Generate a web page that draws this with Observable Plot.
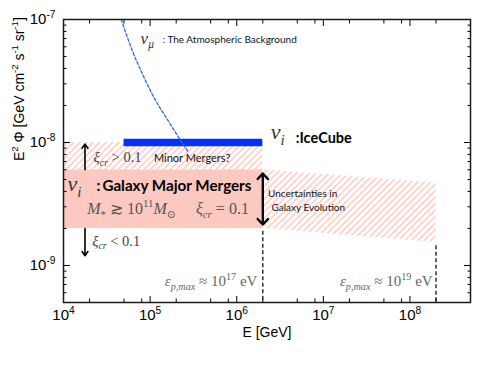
<!DOCTYPE html>
<html>
<head>
<meta charset="utf-8">
<script src="https://cdn.jsdelivr.net/npm/d3@7"></script>
<script src="https://cdn.jsdelivr.net/npm/@observablehq/plot@0.6"></script>
<style>
  html, body { margin: 0; padding: 0; background: #fff; }
  svg text { white-space: pre; }
</style>
</head>
<body>
<div id="chart"></div>
<script>
// ---- data (GeV, GeV cm^-2 s^-1 sr^-1) ----
const xDomain = [1e4, 5e8];
const yDomain = [5e-10, 1e-7];
const xMajor = [1e4, 1e5, 1e6, 1e7, 1e8];
const xMinorMult = [2, 5, 8];
const yMajor = [1e-9, 1e-8, 1e-7];
const yMinorMult = [2, 3, 4, 5, 6, 7, 8, 9];

// atmospheric nu_mu background (dashed blue)
const atmE    = [4.64e4, 6.22e4, 8.47e4, 1.16e5, 1.65e5, 2.25e5, 2.78e5];
const atmFlux = [1.0e-7, 5.6e-8, 3.4e-8, 2.19e-8, 1.47e-8, 1.04e-8, 8.3e-9];

// IceCube band
const iceCube = [{Emin: 5e4, Emax: 2e6, flux: 1e-8}];

// galaxy major mergers (solid) and minor mergers (hatched)
const majorZone = [{E1: 1e4, E2: 2e6, lo: 2e-9, hi: 6e-9}];
const minorZone = [{E1: 1e4, E2: 2e6, lo: 6e-9, hi: 1e-8}];
// uncertainty band extrapolated to higher energies
const bandE  = [2e6, 2e8];
const bandLo = [2e-9, 1.54e-9];
const bandHi = [6e-9, 4.68e-9];

// maximum proton energy cut-offs
const cutE   = [2e6, 2e8];
const cutTop = [1.9e-9, 1.45e-9];

// arrows
const arrowE    = [1.77e4, 1.77e4, 2e6, 2e6];
const arrowFrom = [6.0e-9, 2.0e-9, 3.5e-9, 3.5e-9];
const arrowTo   = [9.7e-9, 1.2e-9, 5.6e-9, 2.15e-9];
const arrowKind = ["thin", "thin", "thick", "thick"];

// annotations: log10 positions in data units
const labelLogE = [4.890, 5.145, 6.393, 6.682, 4.347, 5.044, 4.046, 4.382, 4.274, 4.332, 6.362, 6.401, 6.239, 8.262];
const labelLogF = [-7.151, -7.163, -7.918, -7.963, -8.124, -8.126, -8.338, -8.354, -8.536, -8.801, -8.421, -8.527, -9.128, -9.128];
const labelText = [
  "$ν_{μ}$",
  ": The Atmospheric Background",
  "$ν_{i}$",
  ":IceCube",
  "$ξ_{cr}$ > 0.1",
  "Minor Mergers?",
  "$ν_{i}$",
  ":\u2009Galaxy Major Mergers",
  "$M_{*}$ ≳ 10^{11}$M_{⊙}$\u2003 $ξ_{cr}$ = 0.1",
  "$ξ_{cr}$ < 0.1",
  "Uncertainties in",
  "Galaxy Evolution",
  "$ε_{p,max}$ ≈ 10^{17} eV",
  "$ε_{p,max}$ ≈ 10^{19} eV"
];
const labelKind = ["nuS", "sansS", "nuL", "sansB", "math14", "sansM", "nuL", "sansB15", "math16", "math14", "sansS", "sansS", "cut", "cut"];

const xTitle = "E [GeV]";
const yTitle = "E^{2} Φ [GeV cm^{-2} s^{-1} sr^{-1}]";

// ---- build tables ----
const decadesX = d3.range(4, 9);
const xMinor = decadesX.flatMap(k => xMinorMult.map(m => m * 10 ** k)).filter(v => v > xDomain[0] && v < xDomain[1]);
const decadesY = d3.range(-10, -7);
const yMinor = decadesY.flatMap(k => yMinorMult.map(m => m * 10 ** k)).filter(v => v > yDomain[0] && v < yDomain[1]);

const atm = atmE.map((E, i) => ({E, flux: atmFlux[i]}));
const band = bandE.map((E, i) => ({E, lo: bandLo[i], hi: bandHi[i]}));
const cuts = cutE.map((E, i) => ({E, top: cutTop[i]}));
const arrows = arrowE.map((E, i) => ({E, from: arrowFrom[i], to: arrowTo[i], kind: arrowKind[i]}));
const labels = labelText.map((text, i) => ({E: 10 ** labelLogE[i], F: 10 ** labelLogF[i], text, kind: labelKind[i]}));

const SANS = "Lato, 'Open Sans', 'Liberation Sans', sans-serif";
const SERIF = "'Liberation Serif', 'DejaVu Serif', serif";
const labelStyles = {
  nuS:    {fontSize: 17, fontFamily: SERIF, fill: "#333"},
  nuL:    {fontSize: 22, fontFamily: SERIF, fill: "#333"},
  sansS:  {fontSize: 10, fontFamily: SANS, fill: "#111"},
  sansM:  {fontSize: 11, fontFamily: SANS, fill: "#111"},
  sansB:  {fontSize: 14.5, fontFamily: SANS, fontWeight: "bold", fill: "#000"},
  sansB15:{fontSize: 15.2, fontFamily: SANS, fontWeight: "bold", fill: "#000"},
  math14: {fontSize: 14.5, fontFamily: SERIF, fill: "#444"},
  math16: {fontSize: 16, fontFamily: SERIF, fill: "#555"},
  cut:    {fontSize: 15, fontFamily: SERIF, fill: "#666", textAnchor: "end"}
};
const textMarks = Object.entries(labelStyles).map(([k, st]) =>
  Plot.text(labels.filter(d => d.kind === k), {x: "E", y: "F", text: "text", textAnchor: "start", lineAnchor: "middle", ...st})
);

const blank = () => "";
const pow10 = d => `10^{${Math.round(Math.log10(d))}}`;

const plot = Plot.plot({
  width: 491,
  height: 370,
  marginLeft: 63,
  marginRight: 21,
  marginTop: 19,
  marginBottom: 68,
  x: {type: "log", domain: xDomain},
  y: {type: "log", domain: yDomain},
  style: {fontFamily: "'Liberation Sans', Arial, sans-serif", fontSize: "15px", background: "#fff", color: "#000"},
  marks: [
    Plot.rect(majorZone, {x1: "E1", x2: "E2", y1: "lo", y2: "hi", fill: "#fcc9c1"}),
    Plot.rect(minorZone, {x1: "E1", x2: "E2", y1: "lo", y2: "hi", fill: "url(#hatch)"}),
    Plot.areaY(band, {x: "E", y1: "lo", y2: "hi", fill: "url(#hatch)", curve: "linear"}),
    Plot.ruleX(cuts, {x: "E", y1: "top", y2: yDomain[0], stroke: "#222", strokeWidth: 1.4, strokeDasharray: "4,2.5"}),
    Plot.ruleY(iceCube, {y: "flux", x1: "Emin", x2: "Emax", stroke: "#0530fb", strokeWidth: 7.5}),
    Plot.line(atm, {x: "E", y: "flux", stroke: "#3366ea", strokeWidth: 1.3, strokeDasharray: "3,2", curve: "monotone-x"}),
    Plot.arrow(arrows.filter(d => d.kind === "thin"), {x1: "E", x2: "E", y1: "from", y2: "to", stroke: "#000", strokeWidth: 1.6, headLength: 4.8, headAngle: 70}),
    Plot.arrow(arrows.filter(d => d.kind === "thick"), {x1: "E", x2: "E", y1: "from", y2: "to", stroke: "#000", strokeWidth: 2.3, headLength: 5, headAngle: 85}),
    ...textMarks,
    // axes: inward ticks on all four sides
    Plot.axisX(xMajor, {anchor: "bottom", tickSize: -6, tickPadding: 13, tickFormat: pow10, label: null, fontSize: 15}),
    Plot.axisX(xMinor, {anchor: "bottom", tickSize: -3.5, tickFormat: blank, label: null}),
    Plot.axisX(xMajor, {anchor: "top", tickSize: -6, tickFormat: blank, label: null}),
    Plot.axisX(xMinor, {anchor: "top", tickSize: -3.5, tickFormat: blank, label: null}),
    Plot.axisY(yMajor, {anchor: "left", tickSize: -7, tickPadding: 15, tickFormat: pow10, label: null, fontSize: 15}),
    Plot.axisY(yMinor, {anchor: "left", tickSize: -3.5, tickFormat: blank, label: null}),
    Plot.axisY(yMajor, {anchor: "right", tickSize: -7, tickFormat: blank, label: null}),
    Plot.axisY(yMinor, {anchor: "right", tickSize: -3.5, tickFormat: blank, label: null}),
    Plot.text([xTitle], {frameAnchor: "bottom", dy: 34, text: d => d, fontSize: 14, fill: "#000"}),
    Plot.text([yTitle], {frameAnchor: "left", dx: -44, rotate: -90, text: d => d, fontSize: 14, fill: "#000"}),
    Plot.frame({stroke: "#1a1a1a", strokeWidth: 1.5})
  ]
});

document.getElementById("chart").appendChild(plot);

// hatch pattern
const svg = d3.select(plot);
const defs = svg.insert("defs", ":first-child");
const pat = defs.append("pattern")
  .attr("id", "hatch")
  .attr("patternUnits", "userSpaceOnUse")
  .attr("width", 4.6).attr("height", 4.6)
  .attr("patternTransform", "rotate(45)");
pat.append("rect").attr("width", 4.6).attr("height", 4.6).attr("fill", "#fff");
pat.append("rect").attr("width", 1.8).attr("height", 4.6).attr("fill", "#fdd2cb");

// rich text: $...$ math (serif italic letters), ^{..} superscripts, _{..} subscripts
function richify(node) {
  const raw = node.textContent;
  if (!/[$^_]/.test(raw)) return;
  const base = parseFloat(getComputedStyle(node).fontSize) || 14;
  const runs = [];
  let math = false;
  const push = (ch, shift) => {
    const italic = math && /[A-Za-z\u0370-\u03ff]/.test(ch);
    const last = runs[runs.length - 1];
    if (last && last.math === math && last.italic === italic && last.shift === shift) last.t += ch;
    else runs.push({t: ch, math, italic, shift});
  };
  for (let i = 0; i < raw.length; i++) {
    const c = raw[i];
    if (c === "$") { math = !math; continue; }
    if ((c === "^" || c === "_") && raw[i + 1] === "{") {
      const j = raw.indexOf("}", i);
      for (const ch of raw.slice(i + 2, j)) push(ch, c === "^" ? 1 : -1);
      i = j;
      continue;
    }
    push(c, 0);
  }
  node.textContent = "";
  let cur = 0;
  for (const r of runs) {
    const ts = document.createElementNS("http://www.w3.org/2000/svg", "tspan");
    const off = r.shift === 1 ? -0.42 * base : r.shift === -1 ? 0.26 * base : 0;
    if (off !== cur) { ts.setAttribute("dy", off - cur); cur = off; }
    if (r.shift) ts.setAttribute("font-size", 0.68 * base);
    if (r.math) ts.setAttribute("font-family", SERIF);
    if (r.italic) ts.setAttribute("font-style", "italic");
    ts.textContent = r.t;
    node.appendChild(ts);
  }
}
svg.selectAll("text").each(function () { richify(this); });
</script>
</body>
</html>
